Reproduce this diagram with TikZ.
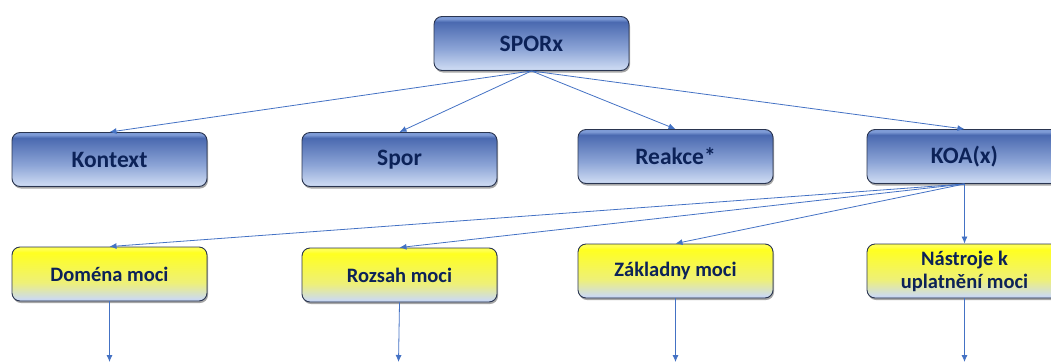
\documentclass[tikz,border=0pt]{standalone}
\usepackage{fontspec}
\setmainfont{Carlito}
\usetikzlibrary{arrows.meta,shadows}
\definecolor{txt}{HTML}{0C2258}
\definecolor{linec}{HTML}{4472C4}
\definecolor{edge}{HTML}{2A3550}
\definecolor{bA}{HTML}{7E9BD6}
\definecolor{bB}{HTML}{4A69B0}
\definecolor{bC}{HTML}{8CA4D6}
\definecolor{bD}{HTML}{CAD8F1}
\definecolor{bE}{HTML}{B4C4E2}
\definecolor{yA}{HTML}{FFFF50}
\definecolor{yB}{HTML}{FFFF20}
\definecolor{yC}{HTML}{EEF078}
\definecolor{yD}{HTML}{CCDAF0}
\pgfdeclareverticalshading{blueshade}{100bp}{color(0bp)=(bE); color(25bp)=(bE); color(27bp)=(bD); color(45bp)=(bC); color(70bp)=(bB); color(73bp)=(bA); color(75bp)=(bA); color(100bp)=(bA)}
\pgfdeclareverticalshading{yellowshade}{100bp}{color(0bp)=(bE); color(25bp)=(bE); color(27bp)=(yD); color(42bp)=(yC); color(70bp)=(yB); color(73bp)=(yA); color(75bp)=(yA); color(100bp)=(yA)}
\tikzset{
  basebox/.style={draw=edge, line width=0.9pt, rounded corners=8pt, minimum width=195pt,
    text=txt, align=center, inner sep=2pt,
    drop shadow={shadow xshift=1pt, shadow yshift=-2pt, opacity=0.35, fill=black}},
  bluebox/.style={basebox, shading=blueshade, minimum height=54pt, font=\bfseries\fontsize{23.5}{26}\selectfont},
  yellowbox/.style={basebox, shading=yellowshade, minimum height=54pt, font=\bfseries\fontsize{20.5}{23}\selectfont},
  conn/.style={draw=linec, line width=0.8pt, -{Latex[length=7pt,width=6pt]}}
}
\begin{document}
\begin{tikzpicture}[x=1pt,y=-1pt]
\useasboundingbox (0,0) rectangle (1051,362);
\node[bluebox] (spor0) at (531.5,43.5) {SPORx};
\node[bluebox] (kontext) at (109.5,159.5) {Kontext};
\node[bluebox] (spor) at (399.5,159.5) {Spor};
\node[bluebox] (reakce) at (675.5,156.5) {Reakce*};
\node[bluebox] (koa) at (964.5,156.5) {KOA(x)};
\node[yellowbox] (domena) at (109.5,274) {Doména moci};
\node[yellowbox] (rozsah) at (399.5,275) {Rozsah moci};
\node[yellowbox] (zakladny) at (675.5,271) {Základny moci};
\node[yellowbox] (nastroje) at (964.5,271) {Nástroje k\\uplatnění moci};
\coordinate (e1) at (109.5,362);
\coordinate (e2) at (398.5,362);
\coordinate (e3) at (675.5,362);
\coordinate (e4) at (964.5,362);
\foreach \t in {kontext,spor,reakce,koa} \draw[conn] (spor0.south) -- (\t.north);
\foreach \t in {domena,rozsah,zakladny,nastroje} \draw[conn] (koa.south) -- (\t.north);
\draw[conn] (domena.south) -- (e1);
\draw[conn] (rozsah.south) -- (e2);
\draw[conn] (zakladny.south) -- (e3);
\draw[conn] (nastroje.south) -- (e4);
\end{tikzpicture}
\end{document}
